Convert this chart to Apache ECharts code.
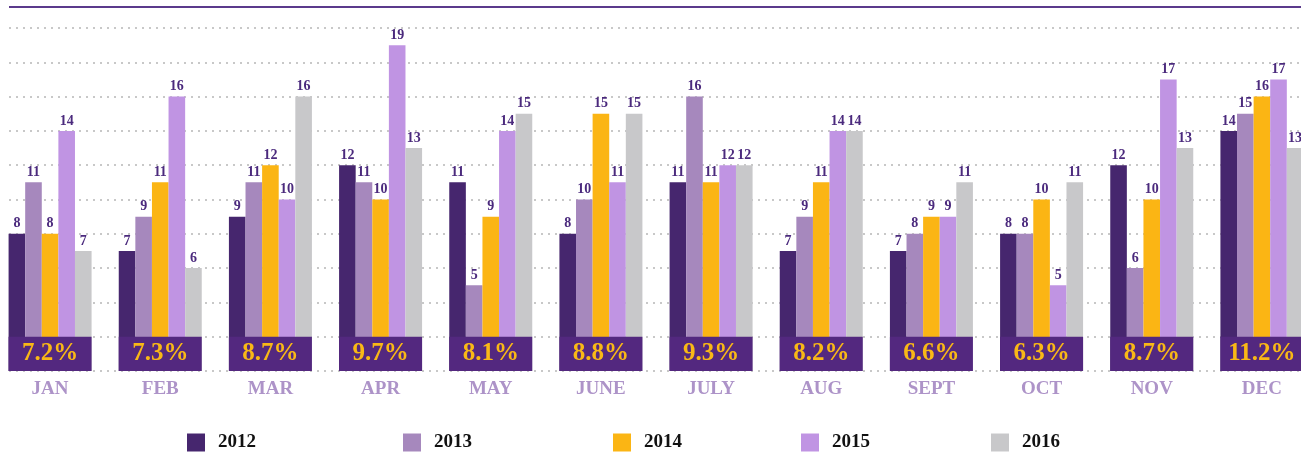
<!DOCTYPE html>
<html>
<head>
<meta charset="utf-8">
<script src="https://cdn.jsdelivr.net/npm/echarts@6/dist/echarts.min.js"></script>
<style>
  html, body { margin: 0; padding: 0; background: #fff; }
  #chart { width: 1301px; height: 454px; }
</style>
</head>
<body>
<div id="chart"></div>
<script>
  // data
  const months = ['JAN', 'FEB', 'MAR', 'APR', 'MAY', 'JUNE', 'JULY', 'AUG', 'SEPT', 'OCT', 'NOV', 'DEC'];
  const years = ['2012', '2013', '2014', '2015', '2016'];
  const v2012 = [8, 7, 9, 12, 11, 8, 11, 7, 7, 8, 12, 14];
  const v2013 = [11, 9, 11, 11, 5, 10, 16, 9, 8, 8, 6, 15];
  const v2014 = [8, 11, 12, 10, 9, 15, 11, 11, 9, 10, 10, 16];
  const v2015 = [14, 16, 10, 19, 14, 11, 12, 14, 9, 5, 17, 17];
  const v2016 = [7, 6, 16, 13, 15, 15, 12, 14, 11, 11, 13, 13];
  const percents = ['7.2%', '7.3%', '8.7%', '9.7%', '8.1%', '8.8%', '9.3%', '8.2%', '6.6%', '6.3%', '8.7%', '11.2%'];

  const yearValues = [v2012, v2013, v2014, v2015, v2016];
  const colors = ['#46266e', '#a688bd', '#fbb514', '#c094e3', '#c8c8ca'];
  const BOX_HEIGHT = 2; // purple percent box, in axis units
  const SERIF = "'Liberation Serif', 'DejaVu Serif', serif";

  const chart = echarts.init(document.getElementById('chart'));

  let series = years.map(function (y, i) {
    return {
      name: y,
      type: 'bar',
      xAxisIndex: 0,
      yAxisIndex: 0,
      barWidth: 16.6,
      barGap: '0%',
      itemStyle: { color: colors[i] },
      label: {
        show: true,
        position: 'top',
        distance: 3,
        color: '#4b2a7d',
        fontFamily: SERIF,
        fontWeight: 'bold',
        fontSize: 14
      },
      data: yearValues[i]
    };
  });

  series.push({
    name: 'box',
    type: 'bar',
    xAxisIndex: 1,
    yAxisIndex: 0,
    barWidth: 83,
    z: 3,
    itemStyle: { color: '#53287f' },
    label: {
      show: true,
      position: 'inside',
      color: '#f9b816',
      fontFamily: SERIF,
      fontWeight: 'bold',
      fontSize: 25,
      formatter: function (p) { return percents[p.dataIndex]; }
    },
    data: months.map(function () { return BOX_HEIGHT; })
  });

  const legendLefts = [187, 403, 613, 801, 991];
  const legends = years.map(function (y, i) {
    return {
      data: [y],
      left: legendLefts[i],
      top: 433,
      padding: 0,
      itemWidth: 18,
      itemHeight: 18,
      icon: 'rect',
      textStyle: {
        color: '#111',
        fontFamily: SERIF,
        fontWeight: 'bold',
        fontSize: 19,
        padding: [0, 0, 0, 8]
      }
    };
  });

  const option = {
    animation: false,
    legend: legends,
    graphic: [{
      type: 'line',
      shape: { x1: 9, y1: 7, x2: 1301, y2: 7 },
      style: { stroke: '#5b3a8c', lineWidth: 2 }
    }],
    grid: [
      { left: -5, right: -16, top: 28, bottom: 83, outerBoundsMode: 'none' },
      { left: 9, right: 0, top: 28, bottom: 83, outerBoundsMode: 'none' }
    ],
    xAxis: [
      {
        type: 'category',
        gridIndex: 0,
        data: months,
        axisLine: { show: false },
        axisTick: { show: false },
        axisLabel: {
          margin: 9,
          color: '#ad93c8',
          fontFamily: SERIF,
          fontWeight: 'bold',
          fontSize: 19
        }
      },
      { type: 'category', gridIndex: 0, data: months, show: false },
      { type: 'category', gridIndex: 1, data: months, show: false }
    ],
    yAxis: [
      { type: 'value', gridIndex: 0, min: 0, max: 20, interval: 2, show: false },
      {
        type: 'value',
        gridIndex: 1,
        min: 0,
        max: 20,
        interval: 2,
        axisLine: { show: false },
        axisTick: { show: false },
        axisLabel: { show: false },
        splitLine: {
          show: true,
          lineStyle: { color: '#c8c8c8', width: 2, type: [2, 5] }
        }
      }
    ],
    series: series
  };

  chart.setOption(option);
</script>
</body>
</html>
